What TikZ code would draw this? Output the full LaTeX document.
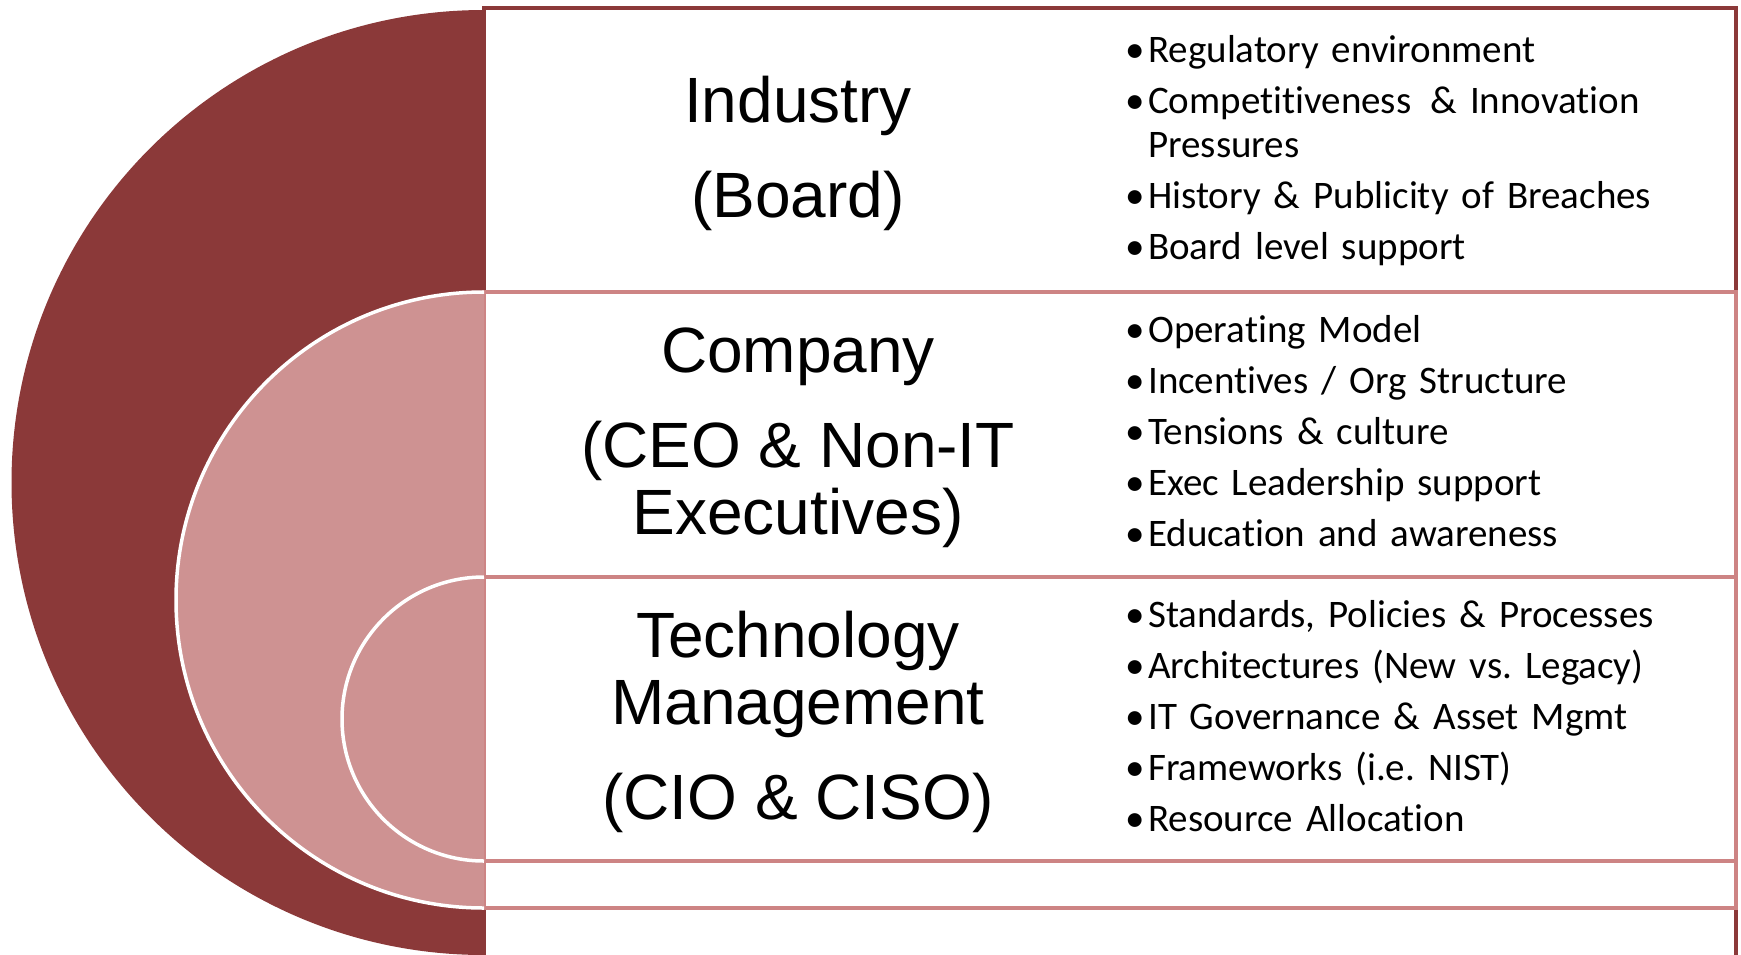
\documentclass[tikz,border=0pt]{standalone}
\usepackage{fontspec}
\newfontfamily\titlefont{Liberation Sans}
\newfontfamily\listfont[Ligatures=NoCommon]{Carlito}
\definecolor{ringdark}{RGB}{139,57,57}
\definecolor{ringlight}{RGB}{206,146,146}
\definecolor{edgelight}{RGB}{205,132,132}

% one bullet point with a hanging indent, ended by its own \par
\newcommand\bulletitem[1]{\hangindent=20pt\hangafter=1\noindent
  \makebox[20pt][l]{\hspace{-3pt}\textbullet}#1\par}

\begin{document}
\begin{tikzpicture}[x=1pt,y=-1pt,
  panel/.style={fill=white, line width=4.5pt},
  halfdisc/.style={fill=ringlight},
  rim/.style={draw=white, line width=3.5pt},
  title/.style={font=\titlefont\fontsize{64}{67}\selectfont,
    align=center, anchor=base, inner sep=0pt},
  points/.style={font=\listfont\fontsize{39}{44}\selectfont\frenchspacing,
    text width=590pt, align=left, anchor=base west, inner sep=0pt}
]
\useasboundingbox (0,0) rectangle (1741,954);

% outer level: panel and dark half disc
\draw[panel, draw=ringdark] (484,8) rectangle (1736,962);
\fill[ringdark] (484,10) arc[start angle=-90, end angle=-270, radius=472.5] -- cycle;

% middle level
\draw[panel, draw=edgelight] (484,292) rectangle (1736,908);
\fill[halfdisc] (484,292) arc[start angle=-90, end angle=-270, radius=308] -- cycle;
\draw[rim] (484,292) arc[start angle=-90, end angle=-270, radius=308];

% inner level
\draw[panel, draw=edgelight] (484,577) rectangle (1736,861);
\fill[halfdisc] (484,577) arc[start angle=-90, end angle=-270, radius=142] -- cycle;
\draw[rim] (484,577) arc[start angle=-90, end angle=-270, radius=142];

% level titles (placed by the baseline of their last line)
\node[title] (industry) at (798,217) {Industry\\[28pt](Board)};
\node[title] (company) at (798,534) {Company\\[28pt](CEO \& Non-IT\\Executives)};
\node[title] (technology) at (798,819) {Technology\\Management\\[28pt](CIO \& CISO)};

% level details (placed by the baseline of their first line)
\node[points] (industrylist) at (1128,62) {\parskip=7pt
  \bulletitem{Regulatory environment}
  \bulletitem{Competitiveness\hspace{6pt} \& Innovation\newline Pressures}
  \bulletitem{History \& Publicity of Breaches}
  \bulletitem{Board level support}};

\node[points] (companylist) at (1128,342) {\parskip=7pt
  \bulletitem{Operating Model}
  \bulletitem{Incentives / Org Structure}
  \bulletitem{Tensions \& culture}
  \bulletitem{Exec Leadership support}
  \bulletitem{Education and awareness}};

\node[points] (technologylist) at (1128,627) {\parskip=7pt
  \bulletitem{Standards, Policies \& Processes}
  \bulletitem{Architectures (New vs. Legacy)}
  \bulletitem{IT Governance \& Asset Mgmt}
  \bulletitem{Frameworks (i.e. NIST)}
  \bulletitem{Resource Allocation}};
\end{tikzpicture}
\end{document}
